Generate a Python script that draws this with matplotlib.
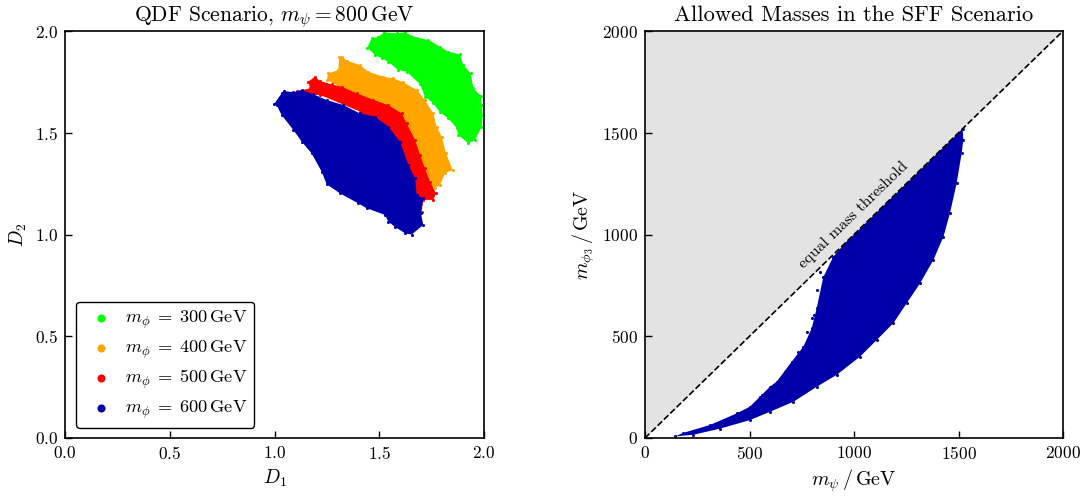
import matplotlib
matplotlib.use("Agg")
import matplotlib.pyplot as plt

plt.rcParams['font.family'] = ['cmr10', 'DejaVu Serif']
plt.rcParams['mathtext.fontset'] = 'cm'
plt.rcParams['axes.formatter.use_mathtext'] = True
plt.rcParams['axes.unicode_minus'] = False

# outlines of the point clouds (D1, D2)
green_d1 = [1.443, 1.464, 1.496, 1.523, 1.583, 1.623, 1.679, 1.734, 1.790, 1.830, 1.885, 1.901, 1.936, 1.949, 1.984, 1.989,
            1.994, 1.989, 1.957, 1.925, 1.877, 1.870, 1.830, 1.790, 1.758, 1.718, 1.695, 1.631, 1.591, 1.543, 1.512, 1.480]
green_d2 = [1.918, 1.964, 1.972, 1.993, 1.989, 1.993, 1.967, 1.956, 1.923, 1.898, 1.885, 1.833, 1.792, 1.718, 1.682, 1.636,
            1.587, 1.530, 1.464, 1.448, 1.489, 1.522, 1.571, 1.600, 1.645, 1.677, 1.738, 1.800, 1.808, 1.849, 1.866, 1.882]
orange_d1 = [1.309, 1.321, 1.348, 1.408, 1.448, 1.519, 1.567, 1.615, 1.679, 1.718, 1.758, 1.774, 1.798, 1.819, 1.850, 1.814,
             1.790, 1.766, 1.700, 1.600, 1.550, 1.456, 1.249, 1.257, 1.305]
orange_d2 = [1.871, 1.874, 1.853, 1.833, 1.800, 1.776, 1.767, 1.748, 1.710, 1.661, 1.595, 1.530, 1.481, 1.399, 1.317, 1.301,
             1.243, 1.227, 1.260, 1.380, 1.500, 1.653, 1.759, 1.792, 1.808]
red_d1 = [1.162, 1.193, 1.217, 1.273, 1.321, 1.392, 1.472, 1.543, 1.607, 1.631, 1.671, 1.695, 1.718, 1.742, 1.771, 1.758,
          1.710, 1.702, 1.691, 1.620, 1.500, 1.408, 1.217, 1.106, 1.109, 1.169]
red_d2 = [1.751, 1.776, 1.754, 1.738, 1.726, 1.694, 1.661, 1.636, 1.595, 1.546, 1.464, 1.391, 1.325, 1.260, 1.202, 1.170,
          1.170, 1.112, 1.129, 1.210, 1.450, 1.604, 1.686, 1.682, 1.705, 1.718]
blue_d1 = [0.998, 1.034, 1.045, 1.090, 1.130, 1.185, 1.249, 1.329, 1.408, 1.480, 1.543, 1.599, 1.639, 1.671, 1.679, 1.710, 1.699,
           1.710, 1.655, 1.623, 1.575, 1.543, 1.528, 1.440, 1.400, 1.313, 1.249, 1.225, 1.177, 1.130, 1.090, 1.034, 1.010]
blue_d2 = [1.641, 1.694, 1.705, 1.699, 1.710, 1.689, 1.661, 1.636, 1.595, 1.579, 1.530, 1.456, 1.342, 1.276, 1.194, 1.178, 1.104,
           1.047, 1.000, 1.006, 1.038, 1.063, 1.096, 1.129, 1.153, 1.202, 1.247, 1.309, 1.399, 1.456, 1.514, 1.587, 1.636]

mass_labels = [300, 400, 500, 600]
cloud_colors = ['#00ff00', '#ffa500', '#ff0000', '#0000aa']

# allowed region in the SFF scenario, lower edge then upper edge
sff_mpsi = [1520, 1523, 1515, 1491, 1459, 1428, 1380, 1316, 1252, 1188, 1109, 1029, 917, 822, 710, 598, 502, 359, 231, 144,
            183, 311, 439, 502, 550, 598, 630, 702, 758, 798, 822, 853, 901, 960]
sff_mphi = [1520, 1464, 1399, 1251, 1104, 989, 875, 760, 662, 564, 482, 400, 310, 252, 178, 129, 88, 46, 16, 8,
            25, 64, 121, 154, 203, 252, 277, 375, 449, 540, 640, 790, 891, 960]
stray_mpsi = [798, 773, 734, 670, 606, 558, 821, 837, 809]
stray_mphi = [588, 522, 424, 326, 252, 211, 727, 817, 604]

d_ticks = [0.0, 0.5, 1.0, 1.5, 2.0]
m_ticks = [0, 500, 1000, 1500, 2000]
threshold = [0, 2000]

fig = plt.figure(figsize=(10.9, 4.99), dpi=100)
ax1 = fig.add_axes([65 / 1090, 1 - 438 / 499, 419 / 1090, 407 / 499])
ax2 = fig.add_axes([645 / 1090, 1 - 438 / 499, 418 / 1090, 407 / 499])

clouds = [(green_d1, green_d2), (orange_d1, orange_d2), (red_d1, red_d2), (blue_d1, blue_d2)]
for (xs, ys), col, m in zip(clouds, cloud_colors, mass_labels):
    ax1.fill(xs, ys, color=col, lw=0)
    ax1.scatter(xs, ys, s=5, color=col, lw=0, label=rf'$m_\phi\;=\;{m}\,\mathrm{{GeV}}$')

leg = ax1.legend(loc='lower left', bbox_to_anchor=(0.026, 0.025), borderaxespad=0, fontsize=13.2, markerscale=2.6,
                 frameon=True, fancybox=True, framealpha=1, edgecolor='k', labelspacing=0.4, handletextpad=0.3,
                 borderpad=0.38)
leg.get_frame().set_linewidth(1.0)
ax1.set_xlim(0, 2)
ax1.set_ylim(0, 2)
ax1.set_xticks(d_ticks)
ax1.set_yticks(d_ticks)
ax1.set_xlabel(r'$D_1$', fontsize=14)
ax1.set_ylabel(r'$D_2$', fontsize=14)
ax1.set_title(r'QDF Scenario, $m_\psi = 800\,\mathrm{GeV}$', fontsize=15.5, pad=7)

ax2.fill_between(threshold, threshold, [2000, 2000], color='#e3e3e3', lw=0)
ax2.fill(sff_mpsi, sff_mphi, color='#0000aa', lw=0)
ax2.scatter(sff_mpsi, sff_mphi, s=5, color='#0000aa', lw=0)
ax2.scatter(stray_mpsi, stray_mphi, s=5, color='#0000aa', lw=0)
ax2.plot(threshold, threshold, 'k--', lw=1.2)
ax2.text(995, 1096, 'equal mass threshold', rotation=44.2, ha='center', va='center', fontsize=11.5, rotation_mode='anchor')
ax2.set_xlim(0, 2000)
ax2.set_ylim(0, 2000)
ax2.set_xticks(m_ticks)
ax2.set_yticks(m_ticks)
ax2.set_xlabel(r'$m_\psi\,/\,\mathrm{GeV}$', fontsize=14.5)
ax2.set_ylabel(r'$m_{\phi_3}\,/\,\mathrm{GeV}$', fontsize=14.5)
ax2.set_title('Allowed Masses in the SFF Scenario', fontsize=16.2, pad=7)

for ax in (ax1, ax2):
    ax.tick_params(direction='in', length=5, width=1.0, labelsize=12.5, pad=5)
    for s in ax.spines.values():
        s.set_linewidth(1.2)

fig.savefig('out.png', dpi=100)
